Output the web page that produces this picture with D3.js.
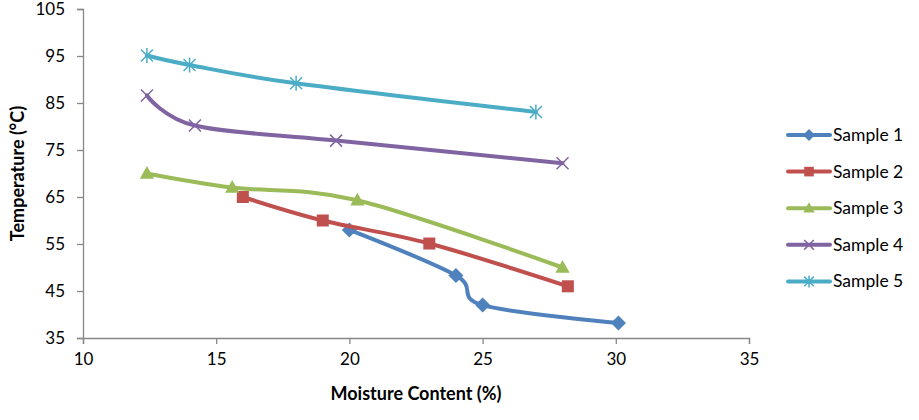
<!DOCTYPE html>
<html lang="en">
  <head>
    <meta charset="utf-8">
    <title>Temperature vs Moisture Content</title>
    <script type="text/javascript" src="https://cdn.jsdelivr.net/npm/d3@7"></script>
    <style>
      body { margin: 0; background: #fff; }
      text { font-family: Lato, "Open Sans", sans-serif; fill: #000; }
    </style>
  </head>
  <body>
    <script type="text/javascript">
    // data
    var sampleNames = ["Sample 1", "Sample 2", "Sample 3", "Sample 4", "Sample 5"];
    var sample1 = [[20, 58], [24, 48.3], [25, 42], [30.1, 38.2]];
    var sample2 = [[16, 65], [19, 60], [23, 55.1], [28.2, 46]];
    var sample3 = [[12.4, 70], [15.6, 67], [20.3, 64.3], [28, 50]];
    var sample4 = [[12.4, 86.6], [14.2, 80.2], [19.5, 77], [28, 72.2]];
    var sample5 = [[12.4, 95.1], [14, 93.1], [18, 89.2], [27, 83.1]];
    var xTicks = [10, 15, 20, 25, 30, 35];
    var yTicks = [35, 45, 55, 65, 75, 85, 95, 105];

    var allSamples = [sample1, sample2, sample3, sample4, sample5];
    var colors = ["#4F81BD", "#C0504D", "#9BBB59", "#8064A2", "#4BACC6"];
    var markers = ["diamond", "square", "triangle", "cross", "star"];

    var w = 919;
    var h = 420;
    var plotLeft = 83, plotRight = 749, plotTop = 9, plotBottom = 338;

    var svg = d3.select("body")
                .append("svg")
                .attr("width", w)
                .attr("height", h);

    var xScale = d3.scaleLinear().domain([10, 35]).range([plotLeft, plotRight]);
    var yScale = d3.scaleLinear().domain([35, 105]).range([plotBottom, plotTop]);

    // axes
    var xAxis = d3.axisBottom(xScale).tickValues(xTicks).tickSizeOuter(0).tickSize(6).tickPadding(9);
    var yAxis = d3.axisLeft(yScale).tickValues(yTicks).tickSizeOuter(0).tickSize(6).tickPadding(12);

    var gx = svg.append("g")
       .attr("transform", "translate(0," + plotBottom + ")")
       .call(xAxis);
    var gy = svg.append("g")
       .attr("transform", "translate(" + plotLeft + ",0)")
       .call(yAxis);

    [gx, gy].forEach(function(g) {
      g.selectAll("path, line").attr("stroke", "#878787").attr("stroke-width", 1.3);
      g.selectAll("text").style("font-size", "17px").style("font-family", "Lato, 'Open Sans', sans-serif").attr("fill", "#000");
    });

    svg.append("text")
       .attr("x", (plotLeft + plotRight) / 2)
       .attr("y", 400)
       .attr("text-anchor", "middle")
       .style("font-size", "18px")
       .style("font-weight", "bold")
       .text("Moisture Content (%)");

    svg.append("text")
       .attr("transform", "translate(24," + ((plotTop + plotBottom) / 2) + ") rotate(-90)")
       .attr("text-anchor", "middle")
       .style("font-size", "18px")
       .style("font-weight", "bold")
       .text("Temperature (°C)");

    // marker drawing
    var drawMarker = function(g, type, color, s) {
      if (type == "diamond") {
        g.append("path").attr("d", "M0," + (-s) + "L" + s + ",0L0," + s + "L" + (-s) + ",0Z").attr("fill", color);
      } else if (type == "square") {
        g.append("rect").attr("x", -s * 0.8).attr("y", -s * 0.8).attr("width", s * 1.6).attr("height", s * 1.6).attr("fill", color);
      } else if (type == "triangle") {
        g.append("path").attr("d", "M0," + (-s) + "L" + (s * 0.95) + "," + (s * 0.7) + "L" + (-s * 0.95) + "," + (s * 0.7) + "Z").attr("fill", color);
      } else if (type == "cross") {
        var c = s * 0.8;
        g.append("path").attr("d", "M" + (-c) + "," + (-c) + "L" + c + "," + c + "M" + (-c) + "," + c + "L" + c + "," + (-c))
         .attr("stroke", color).attr("stroke-width", 1.5).attr("fill", "none");
      } else if (type == "star") {
        var c2 = s * 0.8;
        g.append("path").attr("d", "M" + (-c2) + "," + (-c2) + "L" + c2 + "," + c2 + "M" + (-c2) + "," + c2 + "L" + c2 + "," + (-c2) + "M0," + (-s) + "L0," + s)
         .attr("stroke", color).attr("stroke-width", 1.5).attr("fill", "none");
      }
    };

    var line = d3.line()
                 .x(function(d) { return xScale(d[0]); })
                 .y(function(d) { return yScale(d[1]); })
                 .curve(d3.curveCardinal.tension(0));

    allSamples.forEach(function(data, i) {
      svg.append("path")
         .datum(data)
         .attr("d", line)
         .attr("fill", "none")
         .attr("stroke", colors[i])
         .attr("stroke-width", 4)
         .attr("stroke-linecap", "round");

      data.forEach(function(d) {
        var g = svg.append("g").attr("transform", "translate(" + xScale(d[0]) + "," + yScale(d[1]) + ")");
        drawMarker(g, markers[i], colors[i], 7.5);
      });
    });

    // legend
    var legend = svg.append("g").attr("transform", "translate(788,135)");
    sampleNames.forEach(function(name, i) {
      var g = legend.append("g").attr("transform", "translate(0," + (i * 36.6) + ")");
      g.append("line").attr("x1", 0).attr("x2", 42).attr("y1", 0).attr("y2", 0)
       .attr("stroke", colors[i]).attr("stroke-width", 4).attr("stroke-linecap", "round");
      var m = g.append("g").attr("transform", "translate(21,0)");
      drawMarker(m, markers[i], colors[i], 6);
      g.append("text").attr("x", 45).attr("y", 6).style("font-size", "17.5px").text(name);
    });
    </script>
  </body>
</html>
